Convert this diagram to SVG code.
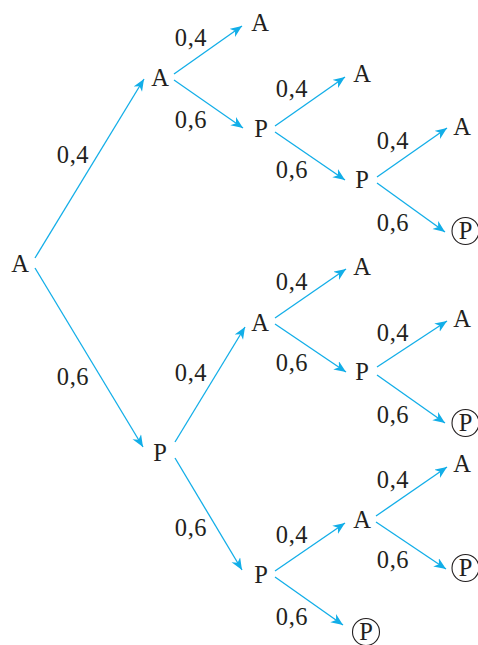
<svg xmlns="http://www.w3.org/2000/svg" width="478" height="645" viewBox="0 0 478 645">
<defs>
<marker id="ah" markerUnits="userSpaceOnUse" markerWidth="14" markerHeight="12" refX="12" refY="5" orient="auto">
<path d="M0,0 L12,5 L0,10 L3.5,5 Z" fill="#12aee8"/>
</marker>
<style>
text{font-family:"Liberation Serif","Times New Roman",serif;font-size:24.5px;fill:#231f20;text-anchor:middle}
.p{letter-spacing:0.6px}
.c{fill:none;stroke:#231f20;stroke-width:1.1}
#edges line{stroke:#12aee8;stroke-width:1.3;marker-end:url(#ah)}
</style>
</defs>
<rect width="478" height="645" fill="#fff"/>
<g id="edges">
<line x1="35" y1="258" x2="144" y2="79"/>
<line x1="35" y1="268" x2="143" y2="447"/>
<line x1="174" y1="74" x2="242" y2="26"/>
<line x1="174" y1="80" x2="243" y2="128"/>
<line x1="275" y1="126" x2="345" y2="77"/>
<line x1="275" y1="132" x2="345" y2="180"/>
<line x1="377" y1="177" x2="447" y2="128"/>
<line x1="377" y1="183" x2="445" y2="232"/>
<line x1="175" y1="442" x2="245" y2="327"/>
<line x1="175" y1="458" x2="242" y2="570"/>
<line x1="275" y1="318" x2="346" y2="269"/>
<line x1="275" y1="324" x2="346" y2="372"/>
<line x1="377" y1="367" x2="447" y2="321"/>
<line x1="377" y1="375" x2="445" y2="423"/>
<line x1="275" y1="571" x2="345" y2="523"/>
<line x1="275" y1="577" x2="343" y2="625"/>
<line x1="376" y1="516" x2="447" y2="467"/>
<line x1="376" y1="522" x2="446" y2="569"/>
</g>
<g id="labels">
<text class="p" x="73" y="163">0,4</text>
<text class="p" x="73" y="385">0,6</text>
<text class="p" x="191" y="46">0,4</text>
<text class="p" x="191" y="128">0,6</text>
<text class="p" x="292" y="97">0,4</text>
<text class="p" x="292" y="178">0,6</text>
<text class="p" x="393" y="149">0,4</text>
<text class="p" x="393" y="231">0,6</text>
<text class="p" x="191" y="381">0,4</text>
<text class="p" x="191" y="536">0,6</text>
<text class="p" x="292" y="290">0,4</text>
<text class="p" x="292" y="371">0,6</text>
<text class="p" x="393" y="341">0,4</text>
<text class="p" x="393" y="423">0,6</text>
<text class="p" x="292" y="543">0,4</text>
<text class="p" x="292" y="625">0,6</text>
<text class="p" x="393" y="488">0,4</text>
<text class="p" x="393" y="568">0,6</text>
</g>
<g id="n0"><text x="20" y="272">A</text></g>
<g id="n1"><text x="160" y="86">A</text></g>
<g id="n2"><text x="160" y="461">P</text></g>
<g id="n3"><text x="260" y="31">A</text></g>
<g id="n4"><text x="261" y="137">P</text></g>
<g id="n5"><text x="260" y="331">A</text></g>
<g id="n6"><text x="261" y="583">P</text></g>
<g id="n7"><text x="362" y="82">A</text></g>
<g id="n8"><text x="362" y="188">P</text></g>
<g id="n9"><text x="362" y="275">A</text></g>
<g id="n10"><text x="362" y="380">P</text></g>
<g id="n11"><text x="362" y="528">A</text></g>
<g id="n12"><circle class="c" cx="366" cy="632" r="13.5"/><text x="366" y="640">P</text></g>
<g id="n13"><text x="462" y="135">A</text></g>
<g id="n14"><circle class="c" cx="465.5" cy="231" r="13.5"/><text x="465.5" y="239">P</text></g>
<g id="n15"><text x="462" y="327">A</text></g>
<g id="n16"><circle class="c" cx="465.5" cy="423" r="13.5"/><text x="465.5" y="431">P</text></g>
<g id="n17"><text x="462" y="472">A</text></g>
<g id="n18"><circle class="c" cx="465.5" cy="568" r="13.5"/><text x="465.5" y="576">P</text></g>
</svg>
